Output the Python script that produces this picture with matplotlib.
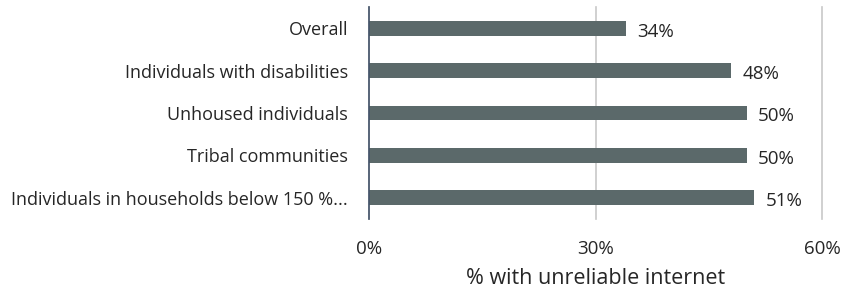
import matplotlib
matplotlib.use("Agg")
import matplotlib.pyplot as plt
from matplotlib.ticker import FuncFormatter

categories = ["Overall", "Individuals with disabilities", "Unhoused individuals",
              "Tribal communities", "Individuals in households below 150 %..."]
values = [34, 48, 50, 50, 51]
value_labels = ["34%", "48%", "50%", "50%", "51%"]
xticks = [0, 30, 60]

plt.rcParams['font.family'] = ['Open Sans', 'DejaVu Sans']

fig = plt.figure(figsize=(8.42, 2.94), dpi=100)
ax = fig.add_axes([369/842, 1-219/294, (822-369)/842, (219-7)/294])

bar_color = "#5b696a"
text_color = "#262626"
ypos = list(range(len(categories)))
ax.barh(ypos, values, height=0.35, color=bar_color, zorder=3)
for y, v, lab in zip(ypos, values, value_labels):
    ax.text(v + 1.5, y + 0.08, lab, va="center", ha="left", fontsize=13.5, color=text_color)

ax.set_xlim(0, 60)
ax.set_ylim(len(categories) - 0.5, -0.5)
ax.set_yticks(ypos)
ax.set_yticklabels(categories, fontsize=13, color=text_color)
ax.set_xticks(xticks)
ax.xaxis.set_major_formatter(FuncFormatter(lambda x, p: f"{int(x)}%"))
ax.tick_params(axis="x", labelsize=13.5, colors=text_color, length=0, pad=15)
ax.tick_params(axis="y", length=0, pad=15)
ax.grid(axis="x", color="#c8c8c8", linewidth=1.2, zorder=0)
for gl in ax.get_xgridlines():
    gl.set_clip_on(False)
for s in ["top", "right", "bottom"]:
    ax.spines[s].set_visible(False)
ax.spines["left"].set_color("#44546a")
ax.spines["left"].set_linewidth(1.2)
ax.spines["left"].set_zorder(4)
ax.set_xlabel("% with unreliable internet", fontsize=15.5, color=text_color, labelpad=7)

fig.savefig("out.png", dpi=100)
